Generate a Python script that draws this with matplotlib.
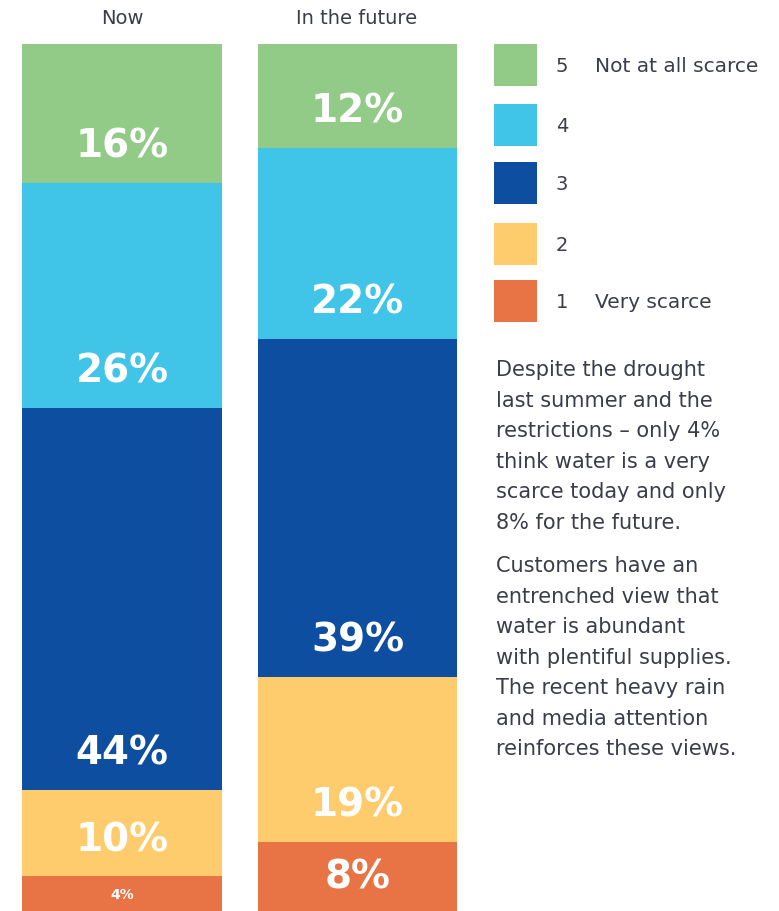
import matplotlib.pyplot as plt
from matplotlib.patches import Rectangle

# Survey: how scarce is water (1 = very scarce, 5 = not at all scarce)
groups = ["Now", "In the future"]
levels = ["1", "2", "3", "4", "5"]
level_names = ["Very scarce", "", "", "", "Not at all scarce"]
now = [4, 10, 44, 26, 16]
future = [8, 19, 39, 22, 12]
colors = ["#E87345", "#FECC6C", "#0D4EA0", "#40C4E8", "#91CB87"]

notes = [
    "Despite the drought\nlast summer and the\nrestrictions \u2013 only 4%\n"
    "think water is a very\nscarce today and only\n8% for the future.",
    "Customers have an\nentrenched view that\nwater is abundant\n"
    "with plentiful supplies.\nThe recent heavy rain\nand media attention\n"
    "reinforces these views.",
]

W, H = 779, 912
fig = plt.figure(figsize=(W / 100, H / 100), dpi=100)
text_col = "#3b3d4a"

# bar axes: pixel box x 22..457, y 45..912
ax = fig.add_axes([22 / W, 0, (457 - 22) / W, (H - 45) / H])
ax.set_xlim(-0.425, 1.422)
ax.set_ylim(0, 100)
ax.axis("off")

for i, vals in enumerate([now, future]):
    bottom = 0
    for v, c in zip(vals, colors):
        ax.bar(i, v, width=0.85, bottom=bottom, color=c, linewidth=0)
        ty = bottom + min(v / 2, 4.3)
        fs = 10 if v < 5 else 28
        ax.text(i, ty, f"{v}%", ha="center", va="center", color="white",
                fontsize=fs, fontweight="bold")
        bottom += v

# overlay axes in pixel coordinates for titles, legend and notes
ov = fig.add_axes([0, 0, 1, 1])
ov.set_xlim(0, W)
ov.set_ylim(H, 0)
ov.axis("off")

ov.text(122, 19, groups[0], ha="center", va="center", fontsize=14,
        color=text_col)
ov.text(357, 19, groups[1], ha="center", va="center", fontsize=14,
        color=text_col)

leg_tops = [281, 224, 163, 105, 45]
for lvl, name, c, top in zip(levels, level_names, colors, leg_tops):
    ov.add_patch(Rectangle((494, top), 43, 42, color=c, linewidth=0))
    ov.text(556, top + 22, lvl, ha="left", va="center", fontsize=14,
            color=text_col)
    if name:
        ov.text(595, top + 22, name, ha="left", va="center", fontsize=14.5,
                color=text_col)

ov.text(496, 360, notes[0], ha="left", va="top", fontsize=15,
        color=text_col, linespacing=1.66)
ov.text(496, 556, notes[1], ha="left", va="top", fontsize=15,
        color=text_col, linespacing=1.66)

fig.savefig("out.png", dpi=100)
